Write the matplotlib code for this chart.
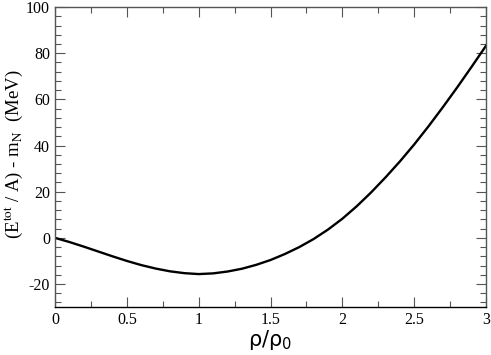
import numpy as np
import matplotlib
matplotlib.use('Agg')
import matplotlib.pyplot as plt
from matplotlib.ticker import MultipleLocator

# Плотность в единицах насыщения и энергия на нуклон (МэВ)
rho = [0.0, 0.1, 0.2, 0.3, 0.4, 0.5, 0.6, 0.7, 0.8, 0.9, 1.0,
       1.1, 1.2, 1.3, 1.4, 1.5, 1.6, 1.7, 1.8, 1.9, 2.0,
       2.1, 2.2, 2.3, 2.4, 2.5, 2.6, 2.7, 2.8, 2.9, 3.0]
energy = [0.0, -1.8, -3.8, -5.9, -8.0, -10.0, -11.8, -13.3, -14.5, -15.3, -15.7,
          -15.4, -14.6, -13.4, -11.7, -9.6, -7.0, -4.0, -0.5, 3.6, 8.3,
          13.7, 19.7, 26.2, 33.1, 40.5, 48.4, 56.7, 65.3, 74.2, 83.3]

plt.rcParams['mathtext.fontset'] = 'stix'
plt.rcParams['axes.unicode_minus'] = False

fig = plt.figure(figsize=(4.91, 3.55), dpi=100)
ax = fig.add_axes([0.112, 0.135, 0.878, 0.845])

ax.plot(rho, energy, color='black', linewidth=1.7)

ax.set_xlim(0, 3)
ax.set_ylim(-30, 100)
ax.xaxis.set_major_locator(MultipleLocator(0.5))
ax.xaxis.set_minor_locator(MultipleLocator(0.25))
ax.yaxis.set_major_locator(MultipleLocator(20))
ax.yaxis.set_minor_locator(MultipleLocator(4))
ax.tick_params(which='both', direction='in', top=True, right=True, width=0.8, color='#555555')
ax.tick_params(which='major', length=7)
ax.tick_params(which='minor', length=4)
ax.set_xticks([0, 0.5, 1, 1.5, 2, 2.5, 3])
ax.set_xticklabels(['0', '0.5', '1', '1.5', '2', '2.5', '3'])

for lab in ax.get_xticklabels() + ax.get_yticklabels():
    lab.set_family('Liberation Serif')
    lab.set_fontsize(11.5)

for s in ax.spines.values():
    s.set_linewidth(1.0)
    s.set_color('#555555')
ax.spines['bottom'].set_color('black')

xl = ax.set_xlabel('ρ/ρ$_{\\rm 0}$', fontsize=15, family='DejaVu Sans', labelpad=0)
xl.set_math_fontfamily('dejavusans')
ax.set_ylabel(r'(E$^{\rm tot}$ / A) - m$_{\rm N}$  (MeV)', fontsize=13.5,
              family='Liberation Serif', va='center')
ax.yaxis.set_label_coords(-0.095, 0.51)

fig.savefig('out.png', dpi=100)
